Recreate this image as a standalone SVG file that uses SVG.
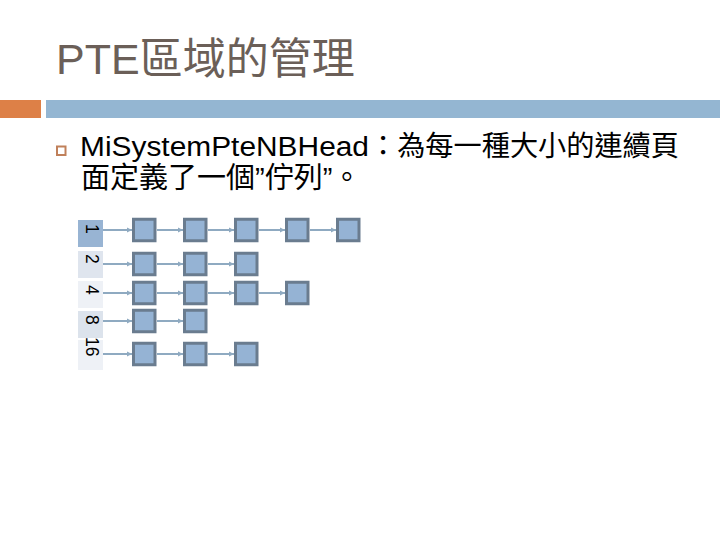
<svg xmlns="http://www.w3.org/2000/svg" width="720" height="540" viewBox="0 0 720 540">
<style>
.t{font-family:"Liberation Sans","Noto Sans CJK TC",sans-serif;}
.title{font-size:43px;fill:#6b5f58;}
.body{fill:#000;}
.sq{fill:#95b3d4;stroke:#6a7c8f;stroke-width:3;}
.lbl{stroke:none;}
.num{font-family:"Liberation Sans",sans-serif;font-size:17.5px;fill:#000;}
.conn line{stroke:#8faac1;stroke-width:2;}
</style>
<defs>
<marker id="ah" markerWidth="6" markerHeight="6" refX="5" refY="3" orient="auto" markerUnits="userSpaceOnUse">
<path d="M0,0.5 L5,3 L0,5.5 Z" fill="#8faac1"/>
</marker>
</defs>
<rect width="720" height="540" fill="#fff"/>
<g id="title">
<text class="t title" x="56" y="74">PTE區域的管理</text>
</g>
<g id="header-bar">
<rect x="0" y="100" width="41" height="18" fill="#dd8047"/>
<rect x="46" y="100" width="674" height="18" fill="#94b6d2"/>
</g>
<g id="bullet-text">
<rect x="57" y="146.5" width="8.5" height="8.5" fill="none" stroke="#c0805a" stroke-width="2"/>
<text class="t body" x="80" y="156" font-size="27" textLength="289" lengthAdjust="spacingAndGlyphs">MiSystemPteNBHead</text>
<text class="t body" x="369" y="156" font-size="28" textLength="310" lengthAdjust="spacingAndGlyphs">：為每一種大小的連續頁</text>
<text class="t body" x="81" y="188" font-size="29">面定義了一個”佇列”。</text>
</g>
<g id="labels">
<g id="label-1"><rect class="lbl" x="78" y="220" width="25" height="27" fill="#98b4d3"/><text class="num" transform="translate(86,224) rotate(90)">1</text></g>
<g id="label-2"><rect class="lbl" x="78" y="251" width="25" height="27" fill="#dfe5ee"/><text class="num" transform="translate(86,254) rotate(90)">2</text></g>
<g id="label-4"><rect class="lbl" x="78" y="281" width="25" height="27" fill="#eef1f6"/><text class="num" transform="translate(86,285) rotate(90)">4</text></g>
<g id="label-8"><rect class="lbl" x="78" y="311" width="25" height="27" fill="#dce3ec"/><text class="num" transform="translate(86,315) rotate(90)">8</text></g>
<g id="label-16"><rect class="lbl" x="78" y="340" width="25" height="30" fill="#eef1f6"/><text class="num" transform="translate(86,337) rotate(90)">16</text></g>
</g>
<g class="conn" id="connectors">
<line x1="103" y1="230" x2="132" y2="230" marker-end="url(#ah)"/>
<line x1="157" y1="230" x2="183" y2="230" marker-end="url(#ah)"/>
<line x1="208" y1="230" x2="234" y2="230" marker-end="url(#ah)"/>
<line x1="259" y1="230" x2="285" y2="230" marker-end="url(#ah)"/>
<line x1="310" y1="230" x2="336" y2="230" marker-end="url(#ah)"/>
<line x1="103" y1="264" x2="132" y2="264" marker-end="url(#ah)"/>
<line x1="157" y1="264" x2="183" y2="264" marker-end="url(#ah)"/>
<line x1="208" y1="264" x2="234" y2="264" marker-end="url(#ah)"/>
<line x1="103" y1="293" x2="132" y2="293" marker-end="url(#ah)"/>
<line x1="157" y1="293" x2="183" y2="293" marker-end="url(#ah)"/>
<line x1="208" y1="293" x2="234" y2="293" marker-end="url(#ah)"/>
<line x1="259" y1="293" x2="285" y2="293" marker-end="url(#ah)"/>
<line x1="103" y1="321" x2="132" y2="321" marker-end="url(#ah)"/>
<line x1="157" y1="321" x2="183" y2="321" marker-end="url(#ah)"/>
<line x1="103" y1="354" x2="132" y2="354" marker-end="url(#ah)"/>
<line x1="157" y1="354" x2="183" y2="354" marker-end="url(#ah)"/>
<line x1="208" y1="354" x2="234" y2="354" marker-end="url(#ah)"/>
</g>
<g id="nodes">
<g id="n1-1"><rect class="sq" x="133.5" y="219.25" width="21.5" height="21.5"/></g>
<g id="n1-2"><rect class="sq" x="184.5" y="219.25" width="21.5" height="21.5"/></g>
<g id="n1-3"><rect class="sq" x="235.5" y="219.25" width="21.5" height="21.5"/></g>
<g id="n1-4"><rect class="sq" x="286.5" y="219.25" width="21.5" height="21.5"/></g>
<g id="n1-5"><rect class="sq" x="337.5" y="219.25" width="21.5" height="21.5"/></g>
<g id="n2-1"><rect class="sq" x="133.5" y="253.25" width="21.5" height="21.5"/></g>
<g id="n2-2"><rect class="sq" x="184.5" y="253.25" width="21.5" height="21.5"/></g>
<g id="n2-3"><rect class="sq" x="235.5" y="253.25" width="21.5" height="21.5"/></g>
<g id="n4-1"><rect class="sq" x="133.5" y="282.25" width="21.5" height="21.5"/></g>
<g id="n4-2"><rect class="sq" x="184.5" y="282.25" width="21.5" height="21.5"/></g>
<g id="n4-3"><rect class="sq" x="235.5" y="282.25" width="21.5" height="21.5"/></g>
<g id="n4-4"><rect class="sq" x="286.5" y="282.25" width="21.5" height="21.5"/></g>
<g id="n8-1"><rect class="sq" x="133.5" y="310.25" width="21.5" height="21.5"/></g>
<g id="n8-2"><rect class="sq" x="184.5" y="310.25" width="21.5" height="21.5"/></g>
<g id="n16-1"><rect class="sq" x="133.5" y="343.25" width="21.5" height="21.5"/></g>
<g id="n16-2"><rect class="sq" x="184.5" y="343.25" width="21.5" height="21.5"/></g>
<g id="n16-3"><rect class="sq" x="235.5" y="343.25" width="21.5" height="21.5"/></g>
</g>
</svg>
